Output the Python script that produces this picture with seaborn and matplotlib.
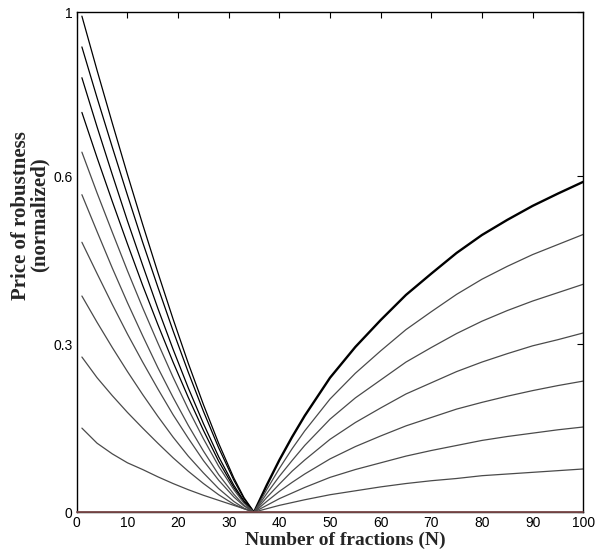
import matplotlib
matplotlib.use("Agg")
import matplotlib.pyplot as plt
import seaborn as sns

# ---------------- Data ----------------
# left branch (N below the optimum, N = 35)
left_x = [1, 4, 7, 10, 13, 16, 19, 22, 25, 28, 31, 33, 35]
left_curves = [
    [0.886, 0.789, 0.695, 0.603, 0.514, 0.428, 0.345, 0.266, 0.192, 0.123, 0.061, 0.026, 0],
    [0.831, 0.740, 0.652, 0.566, 0.482, 0.402, 0.324, 0.250, 0.180, 0.115, 0.057, 0.024, 0],
    [0.776, 0.688, 0.603, 0.520, 0.441, 0.364, 0.291, 0.222, 0.158, 0.099, 0.048, 0.020, 0],
    [0.714, 0.633, 0.555, 0.479, 0.405, 0.335, 0.268, 0.205, 0.146, 0.091, 0.044, 0.018, 0],
    [0.643, 0.570, 0.500, 0.431, 0.365, 0.302, 0.241, 0.184, 0.131, 0.082, 0.040, 0.016, 0],
    [0.567, 0.501, 0.436, 0.374, 0.315, 0.258, 0.205, 0.155, 0.109, 0.067, 0.032, 0.012, 0],
    [0.482, 0.426, 0.371, 0.318, 0.268, 0.220, 0.174, 0.132, 0.092, 0.057, 0.027, 0.011, 0],
    [0.386, 0.339, 0.294, 0.251, 0.210, 0.171, 0.134, 0.100, 0.070, 0.042, 0.019, 0.007, 0],
    [0.277, 0.240, 0.208, 0.178, 0.150, 0.123, 0.097, 0.073, 0.051, 0.031, 0.014, 0.006, 0],
    [0.150, 0.123, 0.104, 0.088, 0.076, 0.063, 0.051, 0.040, 0.030, 0.021, 0.012, 0.006, 0],
]

# right branch (N above the optimum)
right_x = [35, 37.5, 40, 42.5, 45, 50, 55, 60, 65, 70, 75, 80, 85, 90, 95, 100]
right_curves = [
    [0, 0.048, 0.093, 0.134, 0.172, 0.240, 0.295, 0.343, 0.388, 0.426, 0.463, 0.495, 0.522, 0.547, 0.569, 0.590],
    [0, 0.040, 0.078, 0.113, 0.145, 0.202, 0.248, 0.288, 0.326, 0.358, 0.389, 0.416, 0.439, 0.460, 0.478, 0.496],
    [0, 0.033, 0.064, 0.092, 0.119, 0.166, 0.204, 0.236, 0.268, 0.294, 0.319, 0.341, 0.360, 0.377, 0.392, 0.407],
    [0, 0.026, 0.050, 0.073, 0.093, 0.130, 0.160, 0.186, 0.211, 0.231, 0.251, 0.268, 0.283, 0.297, 0.308, 0.320],
    [0, 0.019, 0.037, 0.053, 0.068, 0.095, 0.117, 0.136, 0.154, 0.169, 0.184, 0.196, 0.207, 0.217, 0.226, 0.234],
    [0, 0.012, 0.024, 0.034, 0.044, 0.062, 0.076, 0.088, 0.100, 0.110, 0.119, 0.128, 0.135, 0.141, 0.147, 0.152],
    [0, 0.006, 0.012, 0.017, 0.022, 0.031, 0.038, 0.045, 0.051, 0.056, 0.060, 0.065, 0.068, 0.071, 0.074, 0.077],
]

# zero curve along the bottom
zero_x = [0, 100]
zero_y = [0, 0]

x_ticks = [0, 10, 20, 30, 40, 50, 60, 70, 80, 90, 100]
y_ticks = [0, 0.3, 0.6, 0.893]
y_tick_labels = ["0", "0.3", "0.6", "1"]

# ---------------- Style ----------------
sns.set_style("white")
plt.rcParams["font.family"] = ["Liberation Sans", "DejaVu Sans"]

fig = plt.figure(figsize=(6.05, 5.56), dpi=100)
ax = fig.add_axes([0.127, 0.079, 0.837, 0.899])

for i, ys in enumerate(left_curves):
    col = "black" if i < 4 else "#4a4a4a"
    sns.lineplot(x=left_x, y=ys, color=col, lw=0.9, ax=ax)

for i, ys in enumerate(right_curves):
    col = "black" if i == 0 else "#4a4a4a"
    w = 1.7 if i == 0 else 0.9
    sns.lineplot(x=right_x, y=ys, color=col, lw=w, ax=ax)

sns.lineplot(x=zero_x, y=zero_y, color="#7b4a4a", lw=1.3, ax=ax,
             zorder=5, clip_on=False)

ax.set_xlim(0, 100)
ax.set_ylim(0, 0.893)
ax.set_xticks(x_ticks)
ax.set_yticks(y_ticks)
ax.set_yticklabels(y_tick_labels)
ax.tick_params(direction="in", length=4, width=0.8, top=True, right=True,
               labelsize=10, colors="black", pad=3)
for s in ax.spines.values():
    s.set_visible(True)
    s.set_color("black")
    s.set_linewidth(1.0)

ax.set_xlabel("Number of fractions (N)", family="Liberation Serif",
              fontweight="bold", fontsize=14)
ax.xaxis.set_label_coords(0.531, -0.040)
ax.set_ylabel("Price of robustness\n(normalized)", family="Liberation Serif",
              fontweight="bold", fontsize=15, linespacing=0.9)
ax.yaxis.set_label_coords(-0.053, 0.594)

fig.savefig("out.png", dpi=100, facecolor="white")
